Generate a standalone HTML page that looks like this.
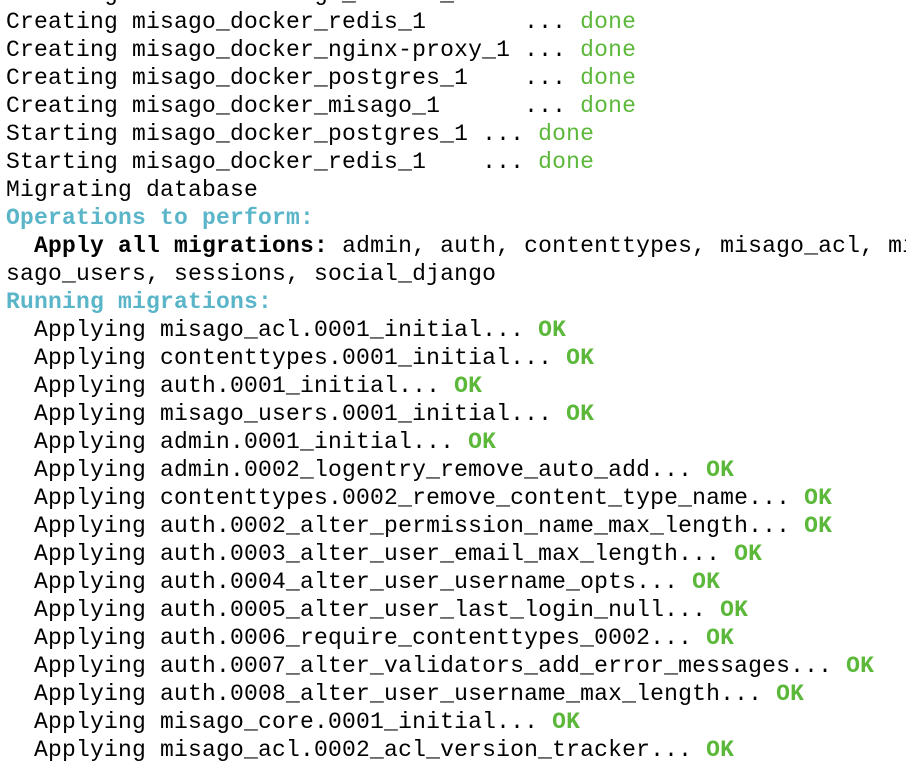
<!DOCTYPE html>
<html><head><meta charset="utf-8"><style>
html,body{margin:0;padding:0;background:#fff;width:906px;height:742px;overflow:hidden}
pre{margin:0;position:absolute;left:6px;top:-20px;font-family:"Liberation Mono","DejaVu Sans Mono",monospace;font-size:23px;letter-spacing:0.2px;line-height:28px;color:#000;white-space:pre}
.g{color:#5cb83a}
.c{color:#5ab5c9;font-weight:bold}
b{font-weight:bold}
.gb{color:#5cb83a;font-weight:bold}
</style></head><body>
<pre>Creating network "misago_docker_default" with the default drive
Creating misago_docker_redis_1       ... <span class="g">done</span>
Creating misago_docker_nginx-proxy_1 ... <span class="g">done</span>
Creating misago_docker_postgres_1    ... <span class="g">done</span>
Creating misago_docker_misago_1      ... <span class="g">done</span>
Starting misago_docker_postgres_1 ... <span class="g">done</span>
Starting misago_docker_redis_1    ... <span class="g">done</span>
Migrating database
<span class="c">Operations to perform:</span>
  <b>Apply all migrations:</b> admin, auth, contenttypes, misago_acl, mi
sago_users, sessions, social_django
<span class="c">Running migrations:</span>
  Applying misago_acl.0001_initial... <span class="gb">OK</span>
  Applying contenttypes.0001_initial... <span class="gb">OK</span>
  Applying auth.0001_initial... <span class="gb">OK</span>
  Applying misago_users.0001_initial... <span class="gb">OK</span>
  Applying admin.0001_initial... <span class="gb">OK</span>
  Applying admin.0002_logentry_remove_auto_add... <span class="gb">OK</span>
  Applying contenttypes.0002_remove_content_type_name... <span class="gb">OK</span>
  Applying auth.0002_alter_permission_name_max_length... <span class="gb">OK</span>
  Applying auth.0003_alter_user_email_max_length... <span class="gb">OK</span>
  Applying auth.0004_alter_user_username_opts... <span class="gb">OK</span>
  Applying auth.0005_alter_user_last_login_null... <span class="gb">OK</span>
  Applying auth.0006_require_contenttypes_0002... <span class="gb">OK</span>
  Applying auth.0007_alter_validators_add_error_messages... <span class="gb">OK</span>
  Applying auth.0008_alter_user_username_max_length... <span class="gb">OK</span>
  Applying misago_core.0001_initial... <span class="gb">OK</span>
  Applying misago_acl.0002_acl_version_tracker... <span class="gb">OK</span>
</pre>
</body></html>
